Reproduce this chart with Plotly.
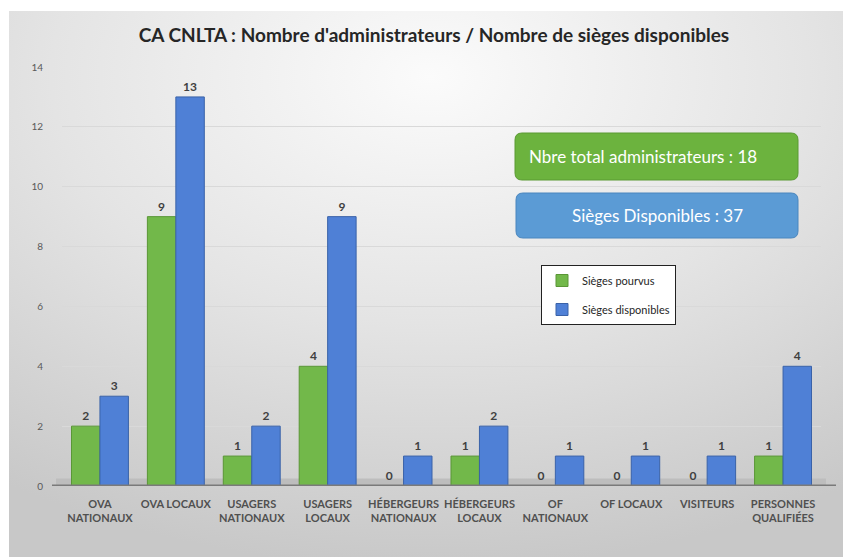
import base64
import plotly.graph_objects as go

categories = ["OVA<br>NATIONAUX", "OVA LOCAUX", "USAGERS<br>NATIONAUX", "USAGERS<br>LOCAUX",
              "HÉBERGEURS<br>NATIONAUX", "HÉBERGEURS<br>LOCAUX", "OF<br>NATIONAUX", "OF LOCAUX",
              "VISITEURS", "PERSONNES<br>QUALIFIÉES"]
sieges_pourvus = [2, 9, 1, 4, 0, 1, 0, 0, 0, 1]
sieges_disponibles = [3, 13, 2, 9, 1, 2, 1, 1, 1, 4]
y_ticks = [0, 2, 4, 6, 8, 10, 12, 14]
title_text = "CA CNLTA : Nombre d'administrateurs / Nombre de sièges disponibles"
box_total = "Nbre total administrateurs : 18"
box_dispo = "Sièges Disponibles : 37"

# page body has an 8px margin: figure is placed at (8, 8) in the window
OFF = 8
W, H = 851 - OFF, 557 - OFF
# plot area in window pixels: x 62..821, y 67..486
ML, MT = 62 - OFF, 67 - OFF
MR, MB = W - (821 - OFF), H - (486 - OFF)
PW, PH = W - ML - MR, H - MT - MB


def px_x(x):
    """window pixel x -> paper x"""
    return (x - OFF - ML) / PW


def px_y(y):
    """window pixel y -> paper y"""
    return (H - MB - (y - OFF)) / PH


# background gradient
BGW, BGH = 851 - 9, 557 - 11
svg = f'''<svg xmlns="http://www.w3.org/2000/svg" width="{BGW}" height="{BGH}">
<defs><radialGradient id="g" cx="0.5" cy="0.12" r="0.9">
<stop offset="0" stop-color="#fbfbfb"/><stop offset="0.5" stop-color="#e4e4e4"/>
<stop offset="1" stop-color="#c8c8c8"/></radialGradient></defs>
<rect width="{BGW}" height="{BGH}" fill="url(#g)"/></svg>'''
bg_src = "data:image/svg+xml;base64," + base64.b64encode(svg.encode()).decode()

label_font = dict(family="Lato", size=12, color="#404040", weight="bold")

fig = go.Figure()
fig.add_trace(go.Bar(
    x=categories, y=sieges_pourvus, name="Sièges pourvus",
    marker=dict(color="#72b84a", line=dict(color="#5a9636", width=1)),
    text=sieges_pourvus, textposition="outside", cliponaxis=False,
    textfont=label_font, legendgroup="a",
))
fig.add_trace(go.Bar(
    x=categories, y=sieges_disponibles, name="Sièges disponibles",
    marker=dict(color="#4f80d6", line=dict(color="#3a62a8", width=1)),
    text=sieges_disponibles, textposition="outside", cliponaxis=False,
    textfont=label_font, legendgroup="b",
))


def rrect(x0, y0, x1, y1, r=7):
    rx, ry = r / PW, r / PH
    X0, X1 = px_x(x0), px_x(x1)
    Yt, Yb = px_y(y0), px_y(y1)
    return (f"M {X0+rx},{Yt} L {X1-rx},{Yt} Q {X1},{Yt} {X1},{Yt-ry} "
            f"L {X1},{Yb+ry} Q {X1},{Yb} {X1-rx},{Yb} L {X0+rx},{Yb} "
            f"Q {X0},{Yb} {X0},{Yb+ry} L {X0},{Yt-ry} Q {X0},{Yt} {X0+rx},{Yt} Z")


shapes = [
    dict(type="path", xref="paper", yref="paper", path=rrect(515, 133, 798, 180),
         fillcolor="#6cb33e", line=dict(color="#5a9a33", width=1)),
    dict(type="path", xref="paper", yref="paper", path=rrect(516, 193, 798, 238),
         fillcolor="#5b9bd5", line=dict(color="#4a86be", width=1)),
    dict(type="rect", xref="paper", yref="y", x0=px_x(56), x1=px_x(826), y0=0, y1=0.25,
         fillcolor="#bdbdbd", line=dict(width=0), layer="below"),
    dict(type="line", xref="paper", yref="y", x0=px_x(52), x1=px_x(836), y0=0, y1=0,
         line=dict(color="#7a7a7a", width=3)),
]

annotations = [
    dict(text=box_total, xref="paper", yref="paper", x=px_x(527), y=px_y(156.5),
         xanchor="left", yanchor="middle", showarrow=False,
         font=dict(family="Lato", size=17, color="white")),
    dict(text=box_dispo, xref="paper", yref="paper", x=px_x(657), y=px_y(215.5),
         xanchor="center", yanchor="middle", showarrow=False,
         font=dict(family="Lato", size=17, color="white")),
]

fig.update_layout(
    width=W, height=H,
    margin=dict(l=ML, r=MR, t=MT, b=MB, autoexpand=False),
    paper_bgcolor="white", plot_bgcolor="rgba(0,0,0,0)",
    images=[dict(source=bg_src, xref="paper", yref="paper",
                 x=px_x(9), y=px_y(11), sizex=BGW / PW, sizey=BGH / PH,
                 xanchor="left", yanchor="top", sizing="stretch", layer="below")],
    title=dict(text=title_text, x=px_x(434), xref="paper", xanchor="center",
               y=1 - (35 - OFF) / H, yanchor="middle",
               font=dict(family="Lato", size=19, color="#262626", weight="bold")),
    barmode="group", bargap=0.25, bargroupgap=0,
    showlegend=True,
    legend=dict(x=px_x(541), y=px_y(265), xanchor="left", yanchor="top",
                bgcolor="white", bordercolor="#222222", borderwidth=1,
                font=dict(family="Lato", size=11, color="#262626"),
                tracegroupgap=10, traceorder="grouped"),
    xaxis=dict(type="category", showgrid=False, showline=False, ticks="",
               tickfont=dict(family="Lato", size=11, color="#505050", weight="bold"),
               tickangle=0, ticklabelstandoff=10, automargin=False),
    yaxis=dict(range=[0, 14], tickvals=y_ticks, showgrid=True, gridcolor="#d9d9d9",
               gridwidth=1, zeroline=False, showline=False, ticks="",
               ticklabelstandoff=18, automargin=False,
               tickfont=dict(family="Lato", size=10, color="#595959")),
    shapes=shapes, annotations=annotations,
    font=dict(family="Lato"),
)

fig.write_html("out.html")
